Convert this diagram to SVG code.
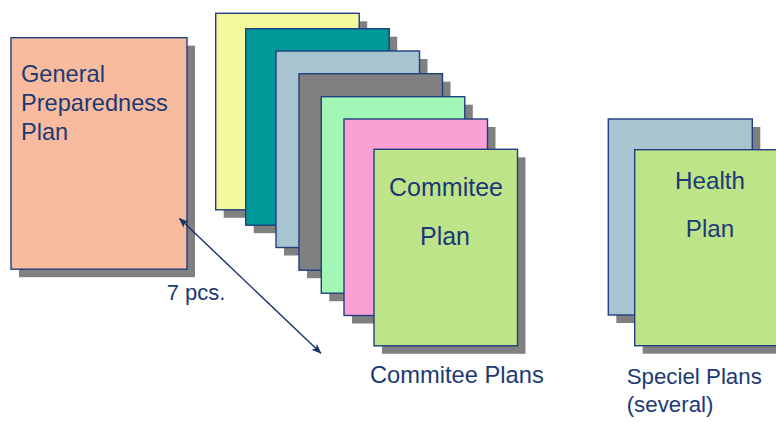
<svg xmlns="http://www.w3.org/2000/svg" width="776" height="422" viewBox="0 0 776 422">
<defs>
<style>
.sh{fill:#808080}
.card{stroke:#1F3F7F;stroke-width:1.4}
.t{font-family:"Liberation Sans",Arial,sans-serif;fill:#1B3A75}
.c{text-anchor:middle}
</style>
<marker id="ah" viewBox="0 0 10 8" refX="9.5" refY="4" markerWidth="10" markerHeight="8" markerUnits="userSpaceOnUse" orient="auto-start-reverse">
<path d="M0,0 L10,4 L0,8 L2.5,4 Z" fill="#17336B"/>
</marker>
</defs>
<rect width="776" height="422" fill="#ffffff"/>

<g id="general-plan">
<rect class="sh" x="19" y="45.7" width="176" height="231.5"/>
<rect class="card" x="11" y="37.7" width="176" height="231.5" fill="#F9BB9E"/>
<text class="t" x="21" y="82" font-size="23.6">General</text>
<text class="t" x="21" y="111" font-size="23.6">Preparedness</text>
<text class="t" x="21" y="140" font-size="23.6">Plan</text>
</g>

<g id="committee-card-1">
<rect class="sh" x="223.7" y="21.3" width="143.5" height="196.5"/>
<rect class="card" x="215.7" y="13.3" width="143.5" height="196.5" fill="#F5F99E"/>
</g>
<g id="committee-card-2">
<rect class="sh" x="253.7" y="36.7" width="143.5" height="196.5"/>
<rect class="card" x="245.7" y="28.7" width="143.5" height="196.5" fill="#009999"/>
</g>
<g id="committee-card-3">
<rect class="sh" x="284" y="59" width="143.5" height="196.5"/>
<rect class="card" x="276" y="51" width="143.5" height="196.5" fill="#A8C4D0"/>
</g>
<g id="committee-card-4">
<rect class="sh" x="307" y="81.7" width="143.5" height="196.5"/>
<rect class="card" x="299" y="73.7" width="143.5" height="196.5" fill="#808080"/>
</g>
<g id="committee-card-5">
<rect class="sh" x="329.3" y="104.7" width="143.5" height="196.5"/>
<rect class="card" x="321.3" y="96.7" width="143.5" height="196.5" fill="#A2F7B7"/>
</g>
<g id="committee-card-6">
<rect class="sh" x="352" y="127" width="143.5" height="196.5"/>
<rect class="card" x="344" y="119" width="143.5" height="196.5" fill="#FAA0D4"/>
</g>
<g id="committee-plan">
<rect class="sh" x="382" y="157.3" width="143.5" height="196.5"/>
<rect class="card" x="374" y="149.3" width="143.5" height="196.5" fill="#BEE48A"/>
<text class="t c" x="446" y="196" font-size="25">Commitee</text>
<text class="t c" x="445" y="245" font-size="25">Plan</text>
</g>

<g id="special-card-1">
<rect class="sh" x="616.3" y="127" width="144" height="196"/>
<rect class="card" x="608.3" y="119" width="144" height="196" fill="#A8C4D0"/>
</g>
<g id="health-plan">
<rect class="sh" x="642.7" y="157.7" width="144" height="196"/>
<rect class="card" x="634.7" y="149.7" width="144" height="196" fill="#BEE48A"/>
<text class="t c" x="710" y="189" font-size="24.2">Health</text>
<text class="t c" x="710" y="237" font-size="24.2">Plan</text>
</g>

<g id="connectors">
<line x1="179.3" y1="218.3" x2="321" y2="353.3" stroke="#17336B" stroke-width="1.4" marker-start="url(#ah)" marker-end="url(#ah)"/>
</g>

<g id="labels">
<text class="t" x="166.7" y="300" font-size="22">7 pcs.</text>
<text class="t" x="370" y="383.3" font-size="23.7">Commitee Plans</text>
<text class="t" x="626.7" y="384" font-size="22.3">Speciel Plans</text>
<text class="t" x="626.7" y="411.5" font-size="22.3">(several)</text>
</g>
</svg>
